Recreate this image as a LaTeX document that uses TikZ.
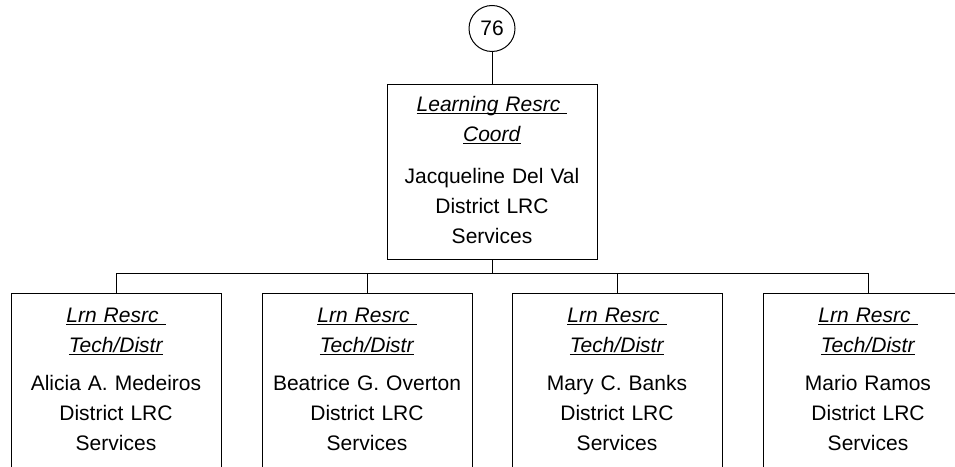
\documentclass[tikz,border=0pt]{standalone}
\usepackage{fontspec}
\setmainfont{Liberation Sans}
\usetikzlibrary{positioning}
\newcommand{\jobttl}[1]{\strut\underline{\smash{\textit{#1}}}}

\begin{document}
\begin{tikzpicture}[x=1pt, y=1pt, line width=1pt,
      every node/.style={font=\fontsize{21}{30}\selectfont},
      unit/.style={draw, rectangle, minimum width=210pt, minimum height=175pt,
        text width=196pt, align=center, inner sep=0pt},
      badge/.style={draw, circle, minimum size=46pt, inner sep=0pt}]
      % Frame
      \useasboundingbox (0,0) rectangle (955,466);
      \clip (0,0) rectangle (955,466);
      % Top of the chart
      \node[badge] (c76) at (492,437.5) {76};
      \node[unit, below=32pt of c76] (lrc) {\jobttl{Learning Resrc\ }\\
        \jobttl{Coord}\\[12pt]
        Jacqueline Del Val\\ District LRC\\ Services\strut};
      % Staff boxes
      \node[unit, below=33pt of lrc, xshift=-125pt] (tech2) {\jobttl{Lrn Resrc\ }\\
        \jobttl{Tech/Distr}\\[8pt]
        Beatrice G. Overton\\ District LRC\\ Services\strut};
      \node[unit, left=40pt of tech2] (tech1) {\jobttl{Lrn Resrc\ }\\
        \jobttl{Tech/Distr}\\[8pt]
        Alicia A. Medeiros\\ District LRC\\ Services\strut};
      \node[unit, below=33pt of lrc, xshift=125pt] (tech3) {\jobttl{Lrn Resrc\ }\\
        \jobttl{Tech/Distr}\\[8pt]
        Mary C. Banks\\ District LRC\\ Services\strut};
      \node[unit, right=40pt of tech3] (tech4) {\jobttl{Lrn Resrc\ }\\
        \jobttl{Tech/Distr}\\[8pt]
        Mario Ramos\\ District LRC\\ Services\strut};
      % Connectors
      \draw (c76) -- (lrc);
      \foreach \t in {tech1,tech2,tech3,tech4}
        \draw (lrc.south) -- ++(0,-14) -| (\t.north);
    \end{tikzpicture}
\end{document}
